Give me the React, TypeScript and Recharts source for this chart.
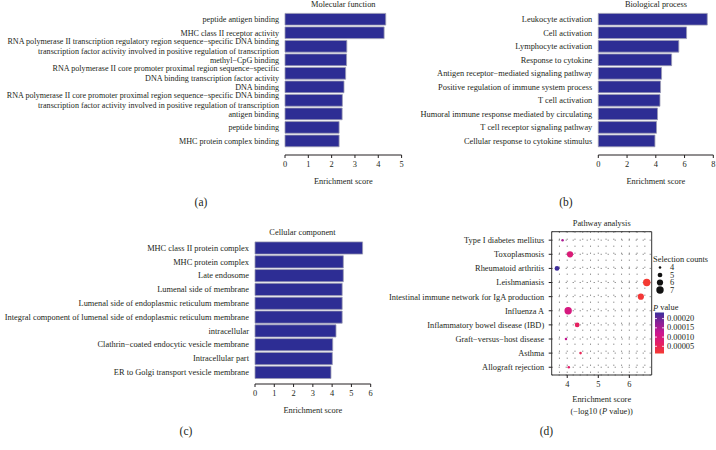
import React from 'react';
import {
  BarChart, Bar, XAxis, YAxis, Label, ScatterChart, Scatter, ZAxis,
  CartesianGrid, Cell, ReferenceArea,
} from 'recharts';

const FONT = '"Liberation Serif", "Times New Roman", "DejaVu Serif", serif';
const INK = '#231f20';
const BAR_FILL = '#2d2d94';
const BAR_EDGE = '#9a9ab2';
const FS = 8.4;

// (a) Molecular function
const mfTerms = [
  'peptide antigen binding',
  'MHC class II receptor activity',
  'RNA polymerase II transcription regulatory region sequence\u2212specific DNA binding\ntranscription factor activity involved in positive regulation of transcription',
  'methyl\u2212CpG binding',
  'RNA polymerase II core promoter proximal region sequence\u2212specific\nDNA binding transcription factor activity',
  'DNA binding',
  'RNA polymerase II core promoter proximal region sequence\u2212specific DNA binding\ntranscription factor activity involved in positive regulation of transcription',
  'antigen binding',
  'peptide binding',
  'MHC protein complex binding',
];
const mfScores = [4.32, 4.25, 2.65, 2.64, 2.6, 2.53, 2.46, 2.45, 2.32, 2.32];
const mfTicks = [0, 1, 2, 3, 4, 5];

// (b) Biological process
const bpTerms = [
  'Leukocyte activation',
  'Cell activation',
  'Lymphocyte activation',
  'Response to cytokine',
  'Antigen receptor\u2212mediated signaling pathway',
  'Positive regulation of immune system process',
  'T cell activation',
  'Humoral immune response mediated by circulating',
  'T cell receptor signaling pathway',
  'Cellular response to cytokine stimulus',
];
const bpScores = [7.58, 6.14, 5.6, 5.1, 4.4, 4.33, 4.29, 4.12, 4.05, 3.94];
const bpTicks = [0, 2, 4, 6, 8];

// (c) Cellular component
const ccTerms = [
  'MHC class II protein complex',
  'MHC protein complex',
  'Late endosome',
  'Lumenal side of membrane',
  'Lumenal side of endoplasmic reticulum membrane',
  'Integral component of lumenal side of endoplasmic reticulum membrane',
  'intracellular',
  'Clathrin\u2212coated endocytic vesicle membrane',
  'Intracellular part',
  'ER to Golgi transport vesicle membrane',
];
const ccScores = [5.58, 4.58, 4.58, 4.52, 4.52, 4.52, 4.2, 4.03, 4.01, 3.94];
const ccTicks = [0, 1, 2, 3, 4, 5, 6];

// (d) Pathway analysis
const pwTerms = [
  'Type I diabetes mellitus',
  'Toxoplasmosis',
  'Rheumatoid arthritis',
  'Leishmaniasis',
  'Intestinal immune network for IgA production',
  'Influenza A',
  'Inflammatory bowel disease (IBD)',
  'Graft\u2212versus\u2212host disease',
  'Asthma',
  'Allograft rejection',
];
const pwScores = [3.85, 4.09, 3.67, 6.56, 6.37, 4.03, 4.32, 3.96, 4.43, 4.05];
const pwCounts = [4, 6, 5, 7, 6, 7, 5, 4, 4, 4];
const pwPValues = [0.00015, 0.00009, 0.00023, 0.000011, 0.000016, 0.0001, 0.00006, 0.00013, 0.00005, 0.00007];
const pwXTicks = [4, 5, 6];
const pwGridX = [3.75, 4, 4.25, 4.5, 4.75, 5, 5.25, 5.5, 5.75, 6, 6.25, 6.5];
const pwXDomain = [3.5, 6.72];
const pwYDomain = [0.45, 10.6];
const countLegend = [4, 5, 6, 7];
const pLegend = [0.0002, 0.00015, 0.0001, 0.00005];
const pRange = [0.000011, 0.000233];
const sizeRange = [5, 43];

// colour stops, t = 0 at low p (red) to 1 at high p (blue)
const colorStops: [number, number[]][] = [
  [0, [244, 58, 50]],
  [0.25, [228, 30, 102]],
  [0.5, [204, 22, 143]],
  [0.75, [138, 33, 150]],
  [1, [58, 46, 155]],
];

const pColor = (p: number) => {
  let t = (p - pRange[0]) / (pRange[1] - pRange[0]);
  t = Math.max(0, Math.min(1, t));
  for (let i = 1; i < colorStops.length; i++) {
    const [t1, c1] = colorStops[i];
    const [t0, c0] = colorStops[i - 1];
    if (t <= t1) {
      const k = (t - t0) / (t1 - t0);
      const c = c0.map((v, j) => Math.round(v + (c1[j] - v) * k));
      return `rgb(${c[0]},${c[1]},${c[2]})`;
    }
  }
  return 'rgb(58,46,155)';
};

// same mapping as the ZAxis: count -> symbol area -> radius
const countRadius = (n: number) => {
  const area = sizeRange[0] + (n - 4) / 3 * (sizeRange[1] - sizeRange[0]);
  return Math.sqrt(area / Math.PI);
};

const TermTick = (props: any) => {
  const { x, y, payload, fs = FS, format } = props;
  const value = format ? format(payload.value) : payload.value;
  const lines = String(value).split('\n');
  return (
    <text x={x} y={y} textAnchor="end" fontSize={fs} fill={INK}>
      {lines.map((ln, i) => (
        <tspan key={i} x={x} y={y + (i - (lines.length - 1) / 2) * 10} dy="0.35em">{ln}</tspan>
      ))}
    </text>
  );
};

const Txt = ({ x, y, size = FS, children }: any) => (
  <div style={{
    position: 'absolute', left: x, top: y, transform: 'translate(-50%, -50%)',
    fontSize: size, lineHeight: 1, whiteSpace: 'nowrap', color: INK,
  }}>{children}</div>
);

interface BarsProps {
  terms: string[];
  scores: number[];
  ticks: number[];
  left: number;
  top: number;
  width: number;
  height: number;
  yWidth: number;
  mTop: number;
  mRight: number;
  padBottom: number;
  barSize: number;
  termSize?: number;
}

const EnrichBars = (p: BarsProps) => {
  const data = p.terms.map((t, i) => ({ term: t, score: p.scores[i] }));
  return (
    <div style={{ position: 'absolute', left: p.left, top: p.top }}>
      <BarChart
        width={p.width}
        height={p.height}
        data={data}
        layout="vertical"
        margin={{ top: p.mTop, right: p.mRight, left: 0, bottom: 0 }}
      >
        <XAxis
          type="number"
          domain={[p.ticks[0], p.ticks[p.ticks.length - 1]]}
          ticks={p.ticks}
          height={31}
          tickSize={3}
          tickMargin={3}
          stroke={INK}
          tick={{ fontSize: FS, fill: INK }}
        >
          <Label value="Enrichment score" position="insideBottom" offset={2} fontSize={FS} fill={INK} />
        </XAxis>
        <YAxis
          type="category"
          dataKey="term"
          width={p.yWidth}
          interval={0}
          tickSize={0}
          tickMargin={6}
          axisLine={false}
          tickLine={false}
          padding={{ top: 0, bottom: p.padBottom }}
          tick={<TermTick fs={p.termSize ?? FS} />}
        />
        <Bar dataKey="score" fill={BAR_FILL} stroke={BAR_EDGE} strokeWidth={0.8} barSize={p.barSize} isAnimationActive={false} />
      </BarChart>
    </div>
  );
};

const PathwayDots = () => {
  const data = pwTerms.map((t, i) => ({
    name: t,
    score: pwScores[i],
    row: pwTerms.length - i,
    count: pwCounts[i],
    p: pwPValues[i],
  }));
  const rows = data.map(d => d.row).sort((a, b) => a - b);
  const rowLabel = (v: number) => pwTerms[pwTerms.length - v];
  return (
    <div style={{ position: 'absolute', left: 360, top: 210 }}>
      <ScatterChart width={300} height={180} margin={{ top: 21.7, right: 8.3, left: 0, bottom: 0 }}>
        <CartesianGrid
          stroke="#444"
          strokeWidth={0.8}
          strokeDasharray="1 6"
          verticalCoordinatesGenerator={({ xAxis, offset }: any) =>
            pwGridX.map(v =>
              xAxis && typeof xAxis.scale === 'function'
                ? xAxis.scale(v)
                : offset.left + (v - pwXDomain[0]) / (pwXDomain[1] - pwXDomain[0]) * offset.width)
          }
        />
        <XAxis
          type="number"
          dataKey="score"
          domain={pwXDomain}
          ticks={pwXTicks}
          interval={0}
          height={15}
          axisLine={false}
          tickSize={3}
          tickMargin={3}
          stroke={INK}
          tick={{ fontSize: FS, fill: INK }}
        />
        <YAxis
          type="number"
          dataKey="row"
          domain={pwYDomain}
          ticks={rows}
          interval={0}
          width={191.7}
          axisLine={false}
          tickSize={3}
          tickMargin={4.5}
          stroke={INK}
          tick={<TermTick format={rowLabel} />}
        />
        <ZAxis type="number" dataKey="count" domain={[4, 7]} range={sizeRange} />
        <ReferenceArea
          x1={pwXDomain[0]} x2={pwXDomain[1]} y1={pwYDomain[0]} y2={pwYDomain[1]}
          fill="none" stroke="#333" strokeWidth={1} ifOverflow="visible"
        />
        <Scatter data={data} isAnimationActive={false}>
          {data.map((d, i) => <Cell key={i} fill={pColor(d.p)} />)}
        </Scatter>
      </ScatterChart>
    </div>
  );
};

const PathwayLegend = () => {
  const cbTop = 312.5;
  const cbH = 41;
  const cbX = 655;
  const cbW = 9;
  const pY = (p: number) => cbTop + (pRange[1] - p) / (pRange[1] - pRange[0]) * cbH;
  return (
    <svg width={716} height={450} style={{ position: 'absolute', left: 0, top: 0, pointerEvents: 'none' }}>
      <defs>
        <linearGradient id="pgrad" x1="0" y1="0" x2="0" y2="1">
          {colorStops.map(([t, c]) => (
            <stop key={t} offset={1 - t} stopColor={`rgb(${c[0]},${c[1]},${c[2]})`} />
          )).reverse()}
        </linearGradient>
      </defs>
      <text x={653} y={259} fontSize={FS} fill={INK} dominantBaseline="central">Selection counts</text>
      {countLegend.map((n, i) => (
        <g key={n}>
          <circle cx={660} cy={267.5 + i * 7.5} r={countRadius(n)} fill="#111" />
          <text x={670} y={267.5 + i * 7.5} fontSize={FS} fill={INK} dominantBaseline="central">{n}</text>
        </g>
      ))}
      <text x={653} y={307.5} fontSize={FS} fill={INK} dominantBaseline="central">
        <tspan fontStyle="italic">P</tspan> value
      </text>
      <rect x={cbX} y={cbTop} width={cbW} height={cbH} fill="url(#pgrad)" />
      {pLegend.map(p => (
        <g key={p}>
          <line x1={cbX} x2={cbX + 2} y1={pY(p)} y2={pY(p)} stroke="#fff" strokeWidth={0.8} />
          <line x1={cbX + cbW - 2} x2={cbX + cbW} y1={pY(p)} y2={pY(p)} stroke="#fff" strokeWidth={0.8} />
          <text x={667} y={pY(p)} fontSize={FS} fill={INK} dominantBaseline="central">{p.toFixed(5)}</text>
        </g>
      ))}
    </svg>
  );
};

export default function App() {
  return (
    <div style={{
      position: 'absolute', left: 0, top: 0, width: 716, height: 450,
      background: '#fff', fontFamily: FONT, color: INK, overflow: 'hidden',
    }}>
      <EnrichBars
        terms={mfTerms} scores={mfScores} ticks={mfTicks}
        left={0} top={0} width={404} height={186} yWidth={285}
        mTop={12.4} mRight={2.4} padBottom={7.4} barSize={11.7} termSize={8.1}
      />
      <EnrichBars
        terms={bpTerms} scores={bpScores} ticks={bpTicks}
        left={404} top={0} width={312} height={186} yWidth={194.3}
        mTop={12.4} mRight={2.7} padBottom={7.4} barSize={11.7}
      />
      <EnrichBars
        terms={ccTerms} scores={ccScores} ticks={ccTicks}
        left={0} top={200} width={375} height={215} yWidth={255}
        mTop={40.9} mRight={4.3} padBottom={4.9} barSize={12.2}
      />
      <PathwayDots />
      <PathwayLegend />

      <Txt x={343.3} y={4.5}>Molecular function</Txt>
      <Txt x={656} y={4.5}>Biological process</Txt>
      <Txt x={302.5} y={233}>Cellular component</Txt>
      <Txt x={601.7} y={224}>Pathway analysis</Txt>
      <Txt x={601.7} y={400}>Enrichment score</Txt>
      <Txt x={601.7} y={412}>({'\u2212'}log10 (<i>P</i> value))</Txt>

      <Txt x={201} y={203} size={11.5}>(a)</Txt>
      <Txt x={566} y={203} size={11.5}>(b)</Txt>
      <Txt x={186} y={432} size={11.5}>(c)</Txt>
      <Txt x={546.5} y={432} size={11.5}>(d)</Txt>
    </div>
  );
}
